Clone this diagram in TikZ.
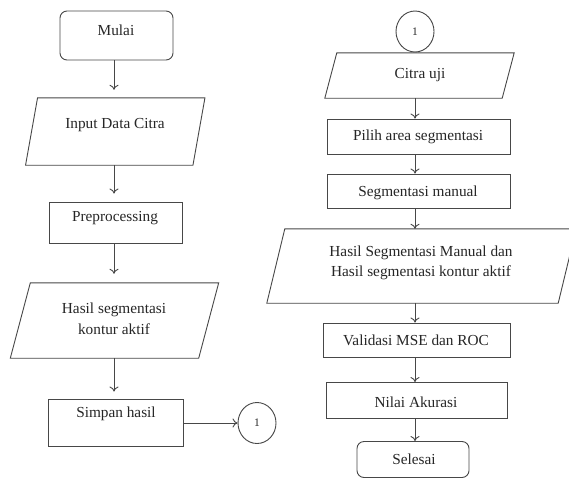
\documentclass[tikz,border=0pt]{standalone}
\usepackage{fontspec}
\setmainfont{Liberation Serif}
\usetikzlibrary{shapes.geometric,arrows.meta}
\newcommand{\iobox}[2]{%
  \draw[ln] ([xshift=#2]#1.north west) -- ([xshift=#2]#1.north east)
    -- ([xshift=-#2]#1.south east) -- ([xshift=-#2]#1.south west) -- cycle;}
\begin{document}
\begin{tikzpicture}[x=1pt,y=-1pt,
  ln/.style={draw=black!72,line width=0.9pt},
  box/.style={ln,rectangle,inner sep=0pt},
  rbox/.style={box,rounded corners=7pt},
  holder/.style={rectangle,inner sep=0pt},
  conn/.style={ln,ellipse,inner sep=0pt,minimum width=38pt,minimum height=41pt,
    text=black!85,font=\fontsize{11.5}{14}\selectfont},
  txt/.style={text=black!85,font=\fontsize{15.3}{21.5}\selectfont,align=center,inner sep=0pt},
  arr/.style={draw=black!72,line width=0.9pt,-{To[length=5pt,width=9pt]}},
]
\useasboundingbox (0,0) rectangle (569,479);
\fill[white] (0,0) rectangle (569,479);
\coordinate (axisL) at (114,0);
\coordinate (axisR) at (415,0);

% ---------- left column ----------
\node[rbox,minimum width=113pt,minimum height=49pt] (start) at (116.5,35.5) {};
\node[txt] (tstart) at (116,30) {Mulai};

\node[holder,minimum width=167pt,minimum height=67pt] (input) at (115.25,131.5) {};
\iobox{input}{6pt}
\node[txt] (tinput) at (115,125) {Input Data Citra};

\node[box,minimum width=133pt,minimum height=41pt] (prep) at (115.5,222.5) {};
\node[txt] (tprep) at (115,218) {Preprocessing};

\node[holder,minimum width=188pt,minimum height=75pt] (hasil) at (114.5,320.5) {};
\iobox{hasil}{10pt}
\node[txt] (thasil) at (114,319) {Hasil segmentasi\\kontur aktif};

\node[box,minimum width=135pt,minimum height=47pt] (simpan) at (115.5,422.5) {};
\node[txt] (tsimpan) at (116,414) {Simpan hasil};

\node[conn] (c1) at (257,423) {1};

\draw[arr,shorten >=8pt] (start.south -| axisL) -- (input.north -| axisL);
\draw[arr,shorten >=8pt] (input.south -| axisL) -- (prep.north -| axisL);
\draw[arr,shorten >=9pt] (prep.south -| axisL) -- (hasil.north -| axisL);
\draw[arr,shorten >=7pt] (hasil.south -| axisL) -- (simpan.north -| axisL);
\draw[arr] (simpan.east |- c1) -- (c1.west);

% ---------- right column ----------
\node[conn] (c2) at (415,31.5) {1};

\node[holder,minimum width=177pt,minimum height=45pt] (citra) at (419.5,75.5) {};
\iobox{citra}{6pt}
\node[txt] (tcitra) at (420,75) {Citra uji};

\node[box,minimum width=183pt,minimum height=35pt] (pilih) at (418.5,136.5) {};
\node[txt] (tpilih) at (418,137) {Pilih area segmentasi};

\node[box,minimum width=183pt,minimum height=34pt] (seg) at (418.5,191) {};
\node[txt] (tseg) at (418,193) {Segmentasi manual};

\node[holder,minimum width=291pt,minimum height=74pt] (hasil2) at (421.5,266) {};
\iobox{hasil2}{9pt}
\node[txt,font=\fontsize{15.3}{20}\selectfont] (thasil2) at (421,263) {Hasil Segmentasi Manual dan\\Hasil segmentasi kontur aktif};

\node[box,minimum width=187pt,minimum height=34pt] (valid) at (416.5,340) {};
\node[txt] (tvalid) at (416,340) {Validasi MSE dan ROC};

\node[box,minimum width=181pt,minimum height=36pt] (nilai) at (416.5,400.5) {};
\node[txt] (tnilai) at (416,402) {Nilai Akurasi};

\node[rbox,minimum width=112pt,minimum height=36pt] (selesai) at (413,459.5) {};
\node[txt] (tselesai) at (414,459) {Selesai};

\draw[arr] (citra.south -| axisR) -- (pilih.north -| axisR);
\draw[arr] (pilih.south -| axisR) -- (seg.north -| axisR);
\draw[arr] (seg.south -| axisR) -- (hasil2.north -| axisR);
\draw[arr] (hasil2.south -| axisR) -- (valid.north -| axisR);
\draw[arr] (valid.south -| axisR) -- (nilai.north -| axisR);
\draw[arr] (nilai.south -| axisR) -- (selesai.north -| axisR);
\end{tikzpicture}
\end{document}
